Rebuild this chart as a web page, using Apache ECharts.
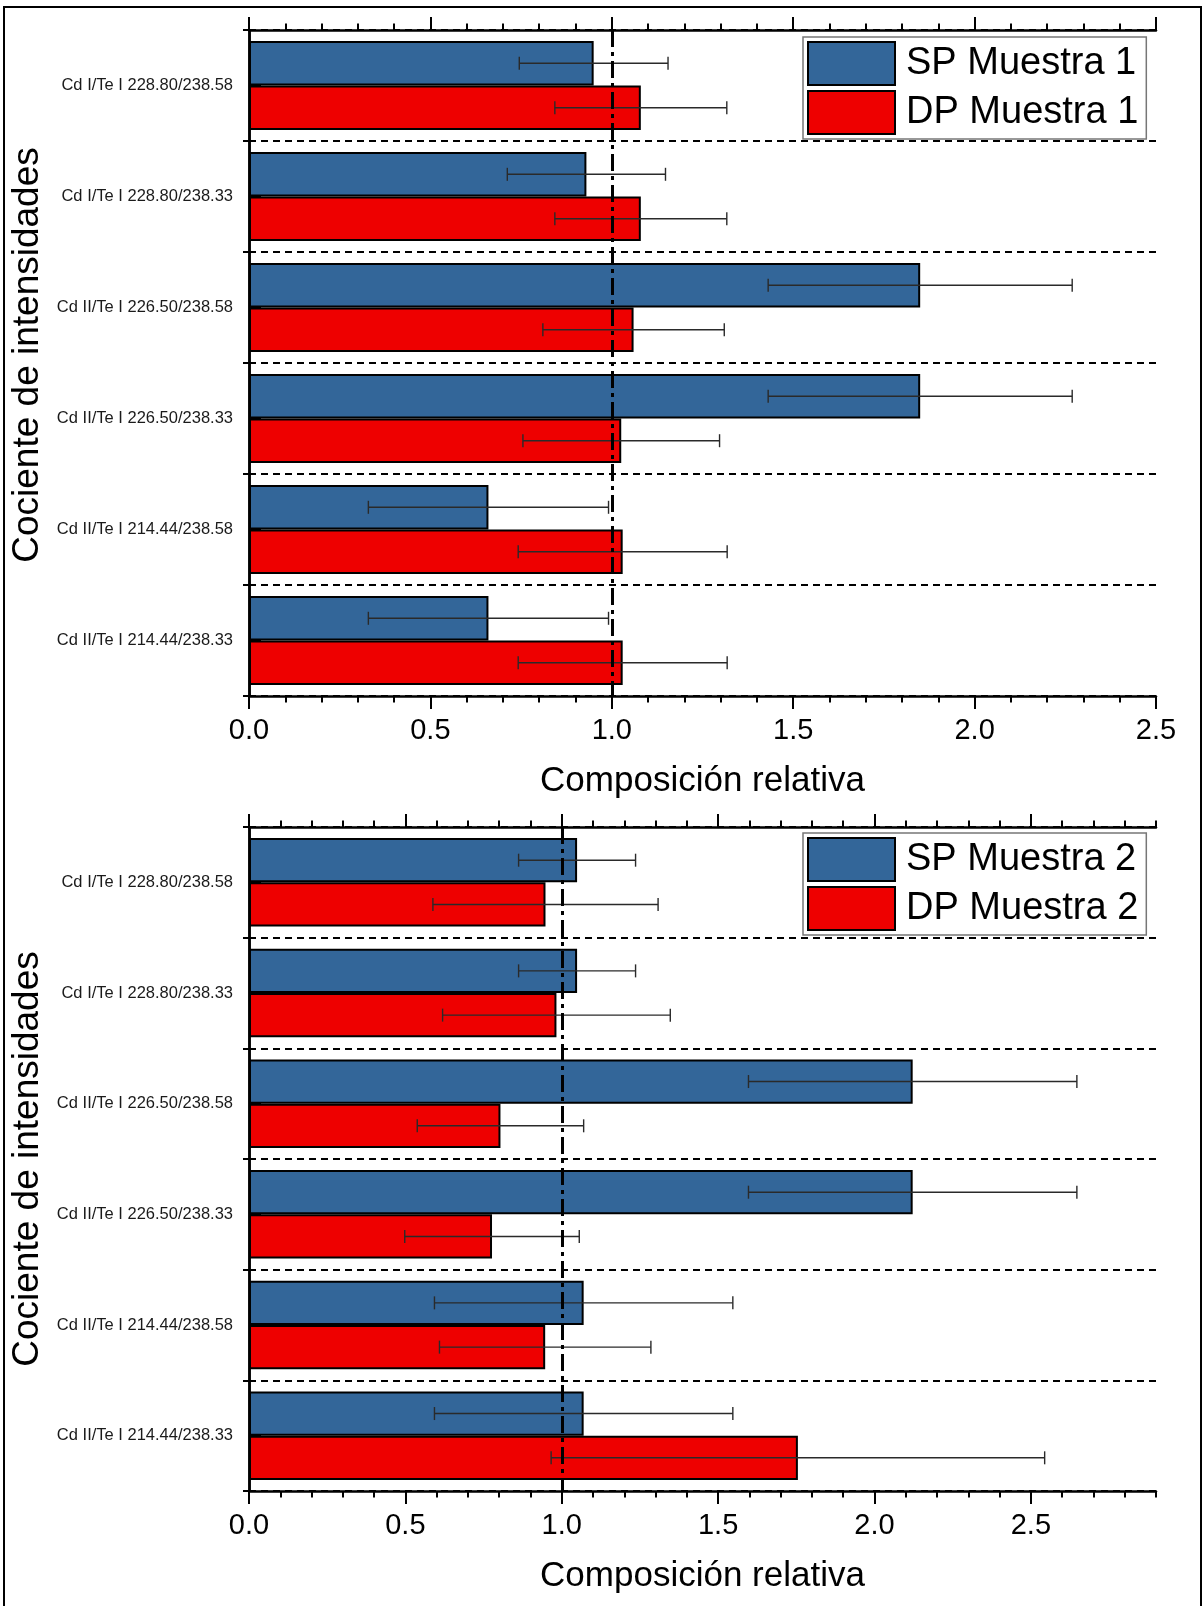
<!DOCTYPE html>
<html>
<head>
<meta charset="utf-8">
<script src="https://cdn.jsdelivr.net/npm/echarts@6/dist/echarts.min.js"></script>
<style>
  html, body { margin: 0; padding: 0; background: #fff; }
  #chart { width: 1204px; height: 1606px; }
</style>
</head>
<body>
<div id="chart"></div>
<script>
// Intensity ratios (category axis, top to bottom)
const categories = [
  'Cd I/Te I 228.80/238.58',
  'Cd I/Te I 228.80/238.33',
  'Cd II/Te I 226.50/238.58',
  'Cd II/Te I 226.50/238.33',
  'Cd II/Te I 214.44/238.58',
  'Cd II/Te I 214.44/238.33'
];
const xTickValues = [0, 0.5, 1.0, 1.5, 2.0, 2.5];
const refValue = 1.0;

// Muestra 1: relative composition and its uncertainty
const sp1 = [0.95, 0.93, 1.85, 1.85, 0.66, 0.66];
const sp1Err = [0.205, 0.218, 0.419, 0.419, 0.331, 0.331];
const dp1 = [1.08, 1.08, 1.06, 1.026, 1.03, 1.03];
const dp1Err = [0.237, 0.237, 0.25, 0.271, 0.288, 0.288];

// Muestra 2
const sp2 = [1.049, 1.049, 2.122, 2.122, 1.07, 1.07];
const sp2Err = [0.187, 0.187, 0.525, 0.525, 0.477, 0.477];
const dp2 = [0.948, 0.983, 0.804, 0.777, 0.947, 1.755];
const dp2Err = [0.36, 0.364, 0.266, 0.279, 0.338, 0.789];

const panels = [
  { sp: sp1, spErr: sp1Err, dp: dp1, dpErr: dp1Err, spName: 'SP Muestra 1', dpName: 'DP Muestra 1', xMax: 2.5,
    grid: { left: 249, top: 30, width: 907, height: 666 }, legendTop: 37, namePad: [0, 0, 0, 16] },
  { sp: sp2, spErr: sp2Err, dp: dp2, dpErr: dp2Err, spName: 'SP Muestra 2', dpName: 'DP Muestra 2', xMax: 2.9,
    grid: { left: 249, top: 827, width: 907, height: 664 }, legendTop: 833, namePad: [0, 0, 0, 0] }
];

const BLUE = '#336699';
const RED = '#ee0000';
const FONT = '"Liberation Sans", Arial, sans-serif';

const grids = [], xAxes = [], yAxes = [], series = [], legends = [];

function valueAxis(g, pos, xMax, major) {
  const ax = {
    type: 'value', gridIndex: g, position: pos, min: 0, max: xMax,
    interval: major ? 0.5 : 0.1,
    axisLine: { show: major, lineStyle: { color: '#000', width: 2.5 } },
    axisTick: { show: true, inside: false, length: major ? 13 : 6.5, lineStyle: { color: '#000', width: 2 } },
    axisLabel: { show: false },
    splitLine: { show: false }
  };
  if (major) {
    ax.axisTick.customValues = xTickValues;
    if (pos === 'bottom') {
      ax.axisLabel = {
        show: true, customValues: xTickValues, color: '#000', fontSize: 29, margin: 20,
        fontFamily: FONT, formatter: v => v.toFixed(1)
      };
      ax.name = 'Composición relativa';
      ax.nameLocation = 'middle';
      ax.nameGap = 68;
      ax.nameTextStyle = { fontSize: 35, color: '#000', fontFamily: FONT };
    }
  }
  return ax;
}

function errorBars(name, values, errs, xi, yi, side) {
  return {
    type: 'custom', name: name, xAxisIndex: xi, yAxisIndex: yi, z: 6,
    encode: { x: 0, y: 1 },
    data: values.map((v, i) => [v, i, errs[i]]),
    renderItem: function (params, api) {
      const v = api.value(0), i = api.value(1), e = api.value(2);
      const band = api.size([0, 1])[1];
      const lo = api.coord([v - e, i]);
      const hi = api.coord([v + e, i]);
      const y = lo[1] + side * band * 0.2;
      const cap = 6.5;
      const st = { stroke: '#2a2a2a', lineWidth: 1.4 };
      return {
        type: 'group',
        children: [
          { type: 'line', shape: { x1: lo[0], y1: y, x2: hi[0], y2: y }, style: st },
          { type: 'line', shape: { x1: lo[0], y1: y - cap, x2: lo[0], y2: y + cap }, style: st },
          { type: 'line', shape: { x1: hi[0], y1: y - cap, x2: hi[0], y2: y + cap }, style: st }
        ]
      };
    }
  };
}

panels.forEach((p, g) => {
  grids.push(Object.assign({ containLabel: false }, p.grid));
  const xb = xAxes.length;
  xAxes.push(valueAxis(g, 'bottom', p.xMax, true));
  xAxes.push(valueAxis(g, 'bottom', p.xMax, false));
  xAxes.push(valueAxis(g, 'top', p.xMax, true));
  xAxes.push(valueAxis(g, 'top', p.xMax, false));

  const yb = yAxes.length;
  yAxes.push({
    type: 'category', gridIndex: g, position: 'left', data: categories, inverse: true,
    axisLine: { lineStyle: { color: '#000', width: 2.5 } },
    axisTick: { show: true, inside: false, length: 6, lineStyle: { color: '#000', width: 2 } },
    axisLabel: { color: '#1a1a1a', fontSize: 16.5, margin: 16, fontFamily: FONT },
    splitLine: { show: true, lineStyle: { color: '#000', width: 2, type: [7, 5] } },
    name: 'Cociente de intensidades', nameLocation: 'middle', nameGap: 197,
    nameTextStyle: { fontSize: 37, color: '#000', fontFamily: FONT, padding: p.namePad }
  });
  yAxes.push({
    type: 'category', gridIndex: g, position: 'right', data: categories, inverse: true,
    axisLine: { lineStyle: { color: '#000', width: 2.5 } },
    axisTick: { show: true, inside: false, length: 6, lineStyle: { color: '#000', width: 2 } },
    axisLabel: { show: false }, splitLine: { show: false }
  });
  yAxes.push({
    type: 'category', gridIndex: g, position: 'right', data: categories, inverse: true,
    axisLine: { show: false },
    axisTick: { show: true, inside: false, alignWithLabel: true, length: 12, lineStyle: { color: '#000', width: 2 } },
    axisLabel: { show: false }, splitLine: { show: false }
  });

  const barCommon = {
    type: 'bar', xAxisIndex: xb, yAxisIndex: yb,
    barGap: '0%', barCategoryGap: '20%'
  };
  series.push(Object.assign({}, barCommon, {
    name: p.spName, data: p.sp,
    itemStyle: { color: BLUE, borderColor: '#000', borderWidth: 2 }
  }));
  series.push(Object.assign({}, barCommon, {
    name: p.dpName, data: p.dp,
    itemStyle: { color: RED, borderColor: '#000', borderWidth: 2 },
    markLine: {
      silent: true, symbol: 'none', z: 8,
      label: { show: false },
      lineStyle: { color: '#000', width: 3, type: [17, 5, 4, 5] },
      data: [{ xAxis: refValue }]
    }
  }));
  series.push(errorBars(p.spName, p.sp, p.spErr, xb, yb, -1));
  series.push(errorBars(p.dpName, p.dp, p.dpErr, xb, yb, 1));

  legends.push({
    data: [p.spName, p.dpName],
    orient: 'vertical', left: 803, top: p.legendTop,
    itemWidth: 87, itemHeight: 43, itemGap: 4,
    padding: [4, 8, 4, 4],
    borderColor: '#777', borderWidth: 1.5, backgroundColor: '#fff',
    icon: 'rect',
    itemStyle: { borderColor: '#000', borderWidth: 2 },
    textStyle: { fontSize: 38, color: '#000', fontFamily: FONT, padding: [0, 0, 0, 6] },
    selectedMode: false
  });
});

const chart = echarts.init(document.getElementById('chart'), null, { renderer: 'canvas' });
chart.setOption({
  animation: false,
  backgroundColor: '#fff',
  textStyle: { fontFamily: FONT },
  grid: grids,
  xAxis: xAxes,
  yAxis: yAxes,
  legend: legends,
  series: series,
  graphic: [{
    type: 'rect', silent: true, z: 100,
    shape: { x: 4, y: 7, width: 1197, height: 1610 },
    style: { fill: 'none', stroke: '#000', lineWidth: 2 }
  }]
});
</script>
</body>
</html>
